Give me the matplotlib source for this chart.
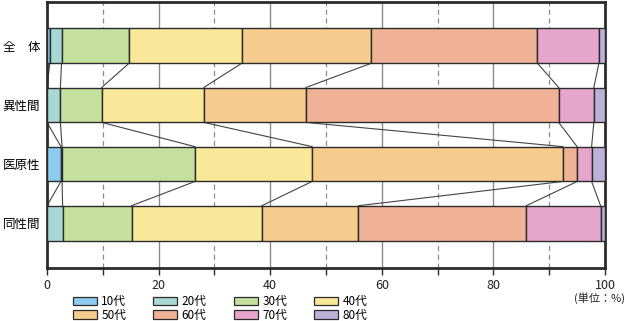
import matplotlib.pyplot as plt
import numpy as np
from matplotlib.patches import Patch

plt.rcParams['font.family'] = ['Noto Sans CJK JP', 'DejaVu Sans']

# Data (percent by age group)
categories = ['全\u3000体', '異性間', '医原性', '同性間']
age_groups = ['10代', '20代', '30代', '40代', '50代', '60代', '70代', '80代']
values = np.array([
    [0.5, 2.1, 12.1, 20.2, 23.2, 29.8, 11.0, 1.1],   # 全体
    [0.0, 2.4, 7.4, 18.3, 18.3, 45.3, 6.3, 2.0],     # 異性間
    [2.5, 0.2, 23.8, 21.0, 44.9, 2.6, 2.6, 2.4],     # 医原性
    [0.0, 2.8, 12.35, 23.35, 17.3, 30.1, 13.3, 0.8], # 同性間
])
colors = ['#8ccbef', '#a8d8d4', '#c5e09e', '#f9e899',
          '#f5cc8e', '#efb297', '#e6a6cb', '#bcb2d8']

fig = plt.figure(figsize=(6.27, 3.21), dpi=100)
ax = fig.add_axes([47 / 627, 1 - 267.5 / 321, 558 / 627, 266 / 321])

bar_h = 0.59
y = np.arange(len(categories))
left = np.zeros(len(categories))
for i, age in enumerate(age_groups):
    ax.barh(y, values[:, i], left=left, height=bar_h, color=colors[i],
            edgecolor='#2b2b2b', linewidth=1.0, zorder=3)
    left = left + values[:, i]

# connecting lines between bars
cum = np.cumsum(values, axis=1)
for r in range(len(categories) - 1):
    for c in range(len(age_groups) - 1):
        ax.plot([cum[r, c], cum[r + 1, c]],
                [y[r] + bar_h / 2, y[r + 1] - bar_h / 2],
                color='#444444', linewidth=0.8, zorder=2)

# grid
for gx in [20, 40, 60, 80]:
    ax.axvline(gx, color='#8a8a8a', linewidth=1.0, zorder=1)
for gx in [10, 30, 50, 70, 90]:
    ax.axvline(gx, color='#8a8a8a', linewidth=0.9, linestyle=(0, (4, 3)), zorder=1)

ax.set_xlim(0, 100)
ax.set_ylim(len(categories) - 0.25, -0.75)
ax.set_yticks(y)
ax.set_yticklabels(categories, fontsize=9)
ax.tick_params(axis='y', length=0, pad=5)
ax.set_xticks(np.arange(0, 101, 10))
ax.set_xticklabels([str(v) if v % 20 == 0 else '' for v in range(0, 101, 10)],
                   fontsize=9, color='#222222')
ax.tick_params(axis='x', direction='out', length=5, width=1.0, color='#2b2b2b', pad=3)
for s in ax.spines.values():
    s.set_linewidth(2.0)
    s.set_color('#2b2b2b')

fig.text(627 / 627 - 0.003, 1 - 298 / 321, '(単位：%)', ha='right', va='center',
         fontsize=8, color='#222222')

# legend (row-wise order)
handles = [Patch(facecolor=colors[i], edgecolor='#2b2b2b', linewidth=0.9, label=age_groups[i])
           for i in range(len(age_groups))]
order = [0, 4, 1, 5, 2, 6, 3, 7]
fig.legend([handles[i] for i in order], [age_groups[i] for i in order],
           ncol=4, frameon=False, fontsize=8.5,
           loc='upper left', bbox_to_anchor=(73 / 627, 1 - 295 / 321),
           handlelength=2.0, handleheight=0.7, handletextpad=0.4,
           columnspacing=2.3, labelspacing=0.05, borderpad=0, borderaxespad=0)

fig.savefig('out.png', dpi=100)
